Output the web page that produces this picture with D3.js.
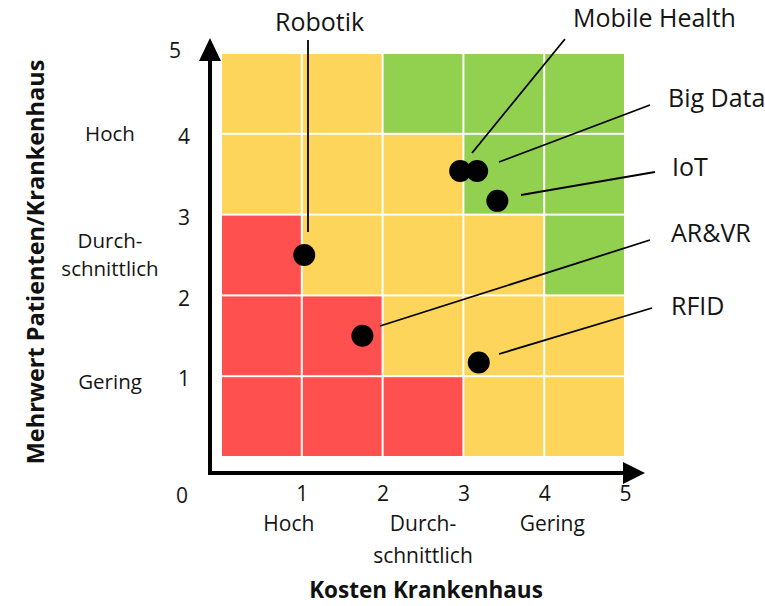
<!DOCTYPE html>
<html>
<head>
<meta charset="utf-8">
<script src="https://cdn.jsdelivr.net/npm/d3@7"></script>
<style>
  html, body { margin: 0; padding: 0; background: #fff; }
  svg { display: block; }
  text { font-family: "Open Sans", sans-serif; }
</style>
</head>
<body>
<svg id="chart" width="765" height="606"></svg>
<script>
// ---------- DATA ----------
const tickValues = [1, 2, 3, 4, 5];
const originLabel = "0";
// cell colour class, rows from top (value 4-5) to bottom (0-1), columns left (0-1) to right (4-5)
const cellRows = [
  ["Y", "Y", "G", "G", "G"],
  ["Y", "Y", "Y", "G", "G"],
  ["R", "Y", "Y", "Y", "G"],
  ["R", "R", "Y", "Y", "Y"],
  ["R", "R", "R", "Y", "Y"]
];
const techNames = ["Robotik", "Mobile Health", "Big Data", "IoT", "AR&VR", "RFID"];
const techCost  = [1.03, 2.96, 3.17, 3.42, 1.75, 3.19];
const techValue = [2.5, 3.54, 3.54, 3.17, 1.5, 1.17];
const xLevelNames = [["Hoch"], ["Durch-", "schnittlich"], ["Gering"]];
const xLevelAt = [0.84, 2.5, 4.1];
const yLevelNames = [["Hoch"], ["Durch-", "schnittlich"], ["Gering"]];
const yLevelAt = [4.0, 2.5, 0.93];
const xTitle = "Kosten Krankenhaus";
const yTitle = "Mehrwert Patienten/Krankenhaus";

// ---------- LAYOUT / STYLE ----------
const colors = { Y: "#FED55B", G: "#92D050", R: "#FF5050" };
const textColor = "#151515";
// label anchor (start of text) and leader line endpoints in pixels
const labelLayout = [
  { tx: 275, ty: 31,  x1: 308, y1: 40,  x2: 308, y2: 232 },
  { tx: 573, ty: 27,  x1: 565, y1: 39,  x2: 472, y2: 153 },
  { tx: 668, ty: 107, x1: 650, y1: 105, x2: 499, y2: 162 },
  { tx: 672, ty: 176, x1: 655, y1: 172, x2: 521, y2: 195 },
  { tx: 671, ty: 242, x1: 650, y1: 240, x2: 380, y2: 326 },
  { tx: 671, ty: 315, x1: 652, y1: 308, x2: 499, y2: 354 }
];

const svg = d3.select("#chart");
const x = d3.scaleLinear().domain([0, 5]).range([221, 625]);
const y = d3.scaleLinear().domain([0, 5]).range([457, 53]);

// ---------- CELLS ----------
const cells = [];
cellRows.forEach((row, r) => row.forEach((c, i) => cells.push({ c, x0: i, y1: 5 - r })));
svg.append("g").selectAll("rect").data(cells).join("rect")
  .attr("x", d => x(d.x0) + 1)
  .attr("y", d => y(d.y1) + 1)
  .attr("width", d => x(d.x0 + 1) - x(d.x0) - 2)
  .attr("height", d => y(d.y1 - 1) - y(d.y1) - 2)
  .attr("fill", d => colors[d.c]);

// ---------- AXES ----------
const axisG = svg.append("g");
axisG.append("line").attr("x1", 208).attr("y1", 473).attr("x2", 626).attr("y2", 473)
  .attr("stroke", "#000").attr("stroke-width", 4);
axisG.append("line").attr("x1", 210).attr("y1", 475).attr("x2", 210).attr("y2", 58)
  .attr("stroke", "#000").attr("stroke-width", 4);
axisG.append("path").attr("d", "M623,462 L645,473 L623,484 Z").attr("fill", "#000");
axisG.append("path").attr("d", "M199,61 L210,38 L221,61 Z").attr("fill", "#000");

const xAxis = svg.append("g").attr("transform", "translate(0,486)")
  .call(d3.axisBottom(x).tickValues(tickValues).tickSize(0).tickPadding(0).tickFormat(d3.format("d")));
xAxis.select(".domain").remove();
xAxis.selectAll("text").attr("font-size", 21).attr("fill", textColor).attr("font-family", "Open Sans");

const yAxis = svg.append("g").attr("transform", "translate(190,3)")
  .call(d3.axisLeft(y).tickValues(tickValues).tickSize(0).tickPadding(0).tickFormat(d3.format("d")));
yAxis.select(".domain").remove();
yAxis.selectAll("text").attr("font-size", 21).attr("fill", textColor).attr("font-family", "Open Sans")
  .attr("dx", d => d === 5 ? -9 : 0).attr("dy", d => d === 5 ? "0.05em" : "0.32em");

svg.append("text").attr("x", 182).attr("y", 503).attr("text-anchor", "middle")
  .attr("font-size", 21).attr("fill", textColor).text(originLabel);

// level labels
xLevelNames.forEach((lines, i) => {
  const t = svg.append("text").attr("text-anchor", "middle").attr("font-size", 21).attr("fill", textColor);
  lines.forEach((ln, k) => t.append("tspan").attr("x", x(xLevelAt[i])).attr("y", 531 + k * 32).text(ln));
});
yLevelNames.forEach((lines, i) => {
  const t = svg.append("text").attr("text-anchor", "middle").attr("font-size", 20.5).attr("fill", textColor);
  const cy = y(yLevelAt[i]);
  const n = lines.length;
  lines.forEach((ln, k) => t.append("tspan").attr("x", 110)
    .attr("y", cy + 7 + (k - (n - 1) / 2) * 28).text(ln));
});

// titles
svg.append("text").attr("x", 426).attr("y", 598).attr("text-anchor", "middle")
  .attr("font-size", 22.5).attr("font-weight", "bold").attr("fill", "#111").text(xTitle);
svg.append("text").attr("transform", "translate(44,262) rotate(-90)").attr("text-anchor", "middle")
  .attr("font-size", 23.5).attr("font-weight", "bold").attr("fill", "#111").text(yTitle);

// ---------- LEADER LINES, DOTS, LABELS ----------
const pts = techNames.map((n, i) => ({ name: n, cx: techCost[i], cy: techValue[i], L: labelLayout[i] }));
svg.append("g").selectAll("line").data(pts).join("line")
  .attr("x1", d => d.L.x1).attr("y1", d => d.L.y1).attr("x2", d => d.L.x2).attr("y2", d => d.L.y2)
  .attr("stroke", "#000").attr("stroke-width", 1.8);
svg.append("g").selectAll("circle").data(pts).join("circle")
  .attr("cx", d => x(d.cx)).attr("cy", d => y(d.cy)).attr("r", 11).attr("fill", "#000");
svg.append("g").selectAll("text").data(pts).join("text")
  .attr("x", d => d.L.tx).attr("y", d => d.L.ty)
  .attr("font-size", 25).attr("fill", textColor).text(d => d.name);
</script>
</body>
</html>
